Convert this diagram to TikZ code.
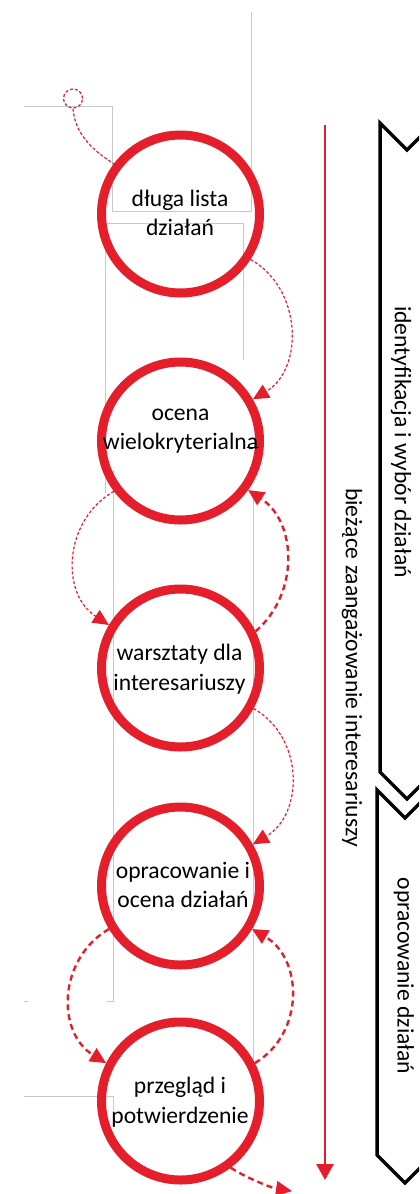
\documentclass[tikz,border=0pt]{standalone}
\usepackage{fontspec}
\setmainfont{Carlito}
\usetikzlibrary{arrows.meta}
\definecolor{cyclered}{HTML}{E41F2B}
\definecolor{boxgray}{HTML}{C8C8C8}

\begin{document}
\begin{tikzpicture}[x=1bp, y=-1bp,
  stage/.style={circle, draw=cyclered, line width=9bp, minimum size=158bp,
                inner sep=0pt, outer sep=4.5bp},
  caption/.style={font=\fontsize{23.6bp}{29.5bp}\selectfont, align=center, inner sep=0pt},
  frame/.style={draw=boxgray, line width=0.8bp},
  chev/.style={draw=black, line width=3.5bp, line join=miter},
  tip/.style={-{Triangle[length=16bp, width=15bp]}},
  thinflow/.style={draw=cyclered, line width=1.2bp, dash pattern=on 3bp off 2bp, tip},
  thickflow/.style={draw=cyclered, line width=2.4bp, dash pattern=on 6bp off 4bp, tip}
]
\useasboundingbox (0,0) rectangle (419,1194);
\clip (0,0) rectangle (419,1194);

% outlines of the layout frames
\draw[frame] (251,12) -- (251,211) -- (112,211) -- (112,106) -- (24,106);
\draw[frame] (105,493) -- (105,223) -- (243,223) -- (243,360);
\draw[frame] (113,470) -- (113,1001) -- (107,1001);
\draw[frame] (24,1001) -- (28,1001);
\draw[frame] (253,497) -- (253,1060);
\draw[frame] (24,1096) -- (113,1096) -- (113,1110);

% process stages
\node[stage] (c1) at (180.5,214) {};
\node[stage] (c2) at (180.5,441) {};
\node[stage] (c3) at (180.5,668) {};
\node[stage] (c4) at (180.5,886) {};
\node[stage] (c5) at (180.5,1101) {};

\node[caption] (t1) at (180,213) {długa lista\\działań};
\node[caption] (t2) at (180.5,431) {ocena\\wielokryterialna};
\draw[line width=1bp] (247,447) -- (259,447);
\node[caption] (t3) at (179.5,669) {warsztaty dla\\interesariuszy};
\node[caption] (t4) at (183,885) {opracowanie i\\ocena działań};
\node[caption] (t5) at (180,1102) {przegląd i\\potwierdzenie};

% entry point
\node[circle, draw=cyclered, line width=1.2bp, dash pattern=on 3bp off 2bp,
      minimum size=19bp, inner sep=0pt] (entry) at (73,98.5) {};
\draw[cyclered, line width=1.2bp, dash pattern=on 3bp off 2bp]
  (entry.south) .. controls +(2,25) and +(-22,-14) .. (c1.143);

% transitions between stages
\draw[thinflow] (c1.-33) .. controls +(52,29) and +(51,-30) .. (c2.30);
\draw[thinflow] (c2.217) .. controls +(-50,29) and +(-49,-32) .. (c3.149);
\draw[thickflow] (c3.26) .. controls +(44,-38) and +(49,32) .. (c2.-36);
\draw[thinflow] (c3.-29) .. controls +(51,29) and +(51,-30) .. (c4.30);
\draw[thickflow] (c4.211) .. controls +(-51,30) and +(-50,-31) .. (c5.153);
\draw[thickflow] (c5.27) .. controls +(50,-30) and +(51,30) .. (c4.-31);
\coordinate (exit) at (292,1191);
\draw[thickflow] (c5.-53) .. controls +(15,10) and +(-20,-3) .. (exit);

% ongoing stakeholder involvement
\coordinate (engtop) at (325,125);
\coordinate (engbot) at (325,1180);
\draw[cyclered, line width=2.8bp, -{Triangle[length=16bp, width=17bp]}] (engtop) -- (engbot);
\node[caption, rotate=-90] (eng) at (352,667.5) {bieżące zaangażowanie interesariuszy};

% phases
\draw[chev] (380,123) -- (407,150) -- (434,123) -- (434,772) -- (407,799) -- (380,772) -- cycle;
\draw[chev] (377,790) -- (405,818) -- (433,790) -- (433,1155) -- (405,1183) -- (377,1155) -- cycle;
\node[caption, rotate=-90] (ph1) at (401,442) {identyfikacja i wybór działań};
\node[caption, rotate=-90] (ph2) at (404,976) {opracowanie działań};
\end{tikzpicture}
\end{document}
